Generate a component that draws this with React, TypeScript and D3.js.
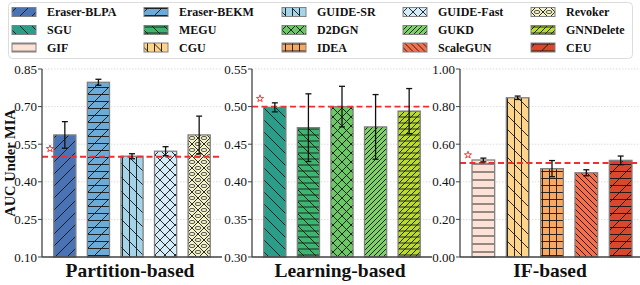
import * as d3 from 'd3';
import React from 'react';

// values (AUC under MIA, mean and std)
const partitionMethods = ['Eraser-BLPA', 'Eraser-BEKM', 'GUIDE-SR', 'GUIDE-Fast', 'Revoker'];
const partitionAuc = [0.587, 0.797, 0.502, 0.522, 0.587];
const partitionErr = [0.053, 0.012, 0.010, 0.018, 0.075];

const learningMethods = ['SGU', 'MEGU', 'D2DGN', 'GUKD', 'GNNDelete'];
const learningAuc = [0.499, 0.472, 0.5, 0.473, 0.494];
const learningErr = [0.006, 0.045, 0.027, 0.043, 0.03];

const ifMethods = ['GIF', 'CGU', 'IDEA', 'ScaleGUN', 'CEU'];
const ifAuc = [0.516, 0.847, 0.47, 0.448, 0.514];
const ifErr = [0.01, 0.009, 0.043, 0.016, 0.023];

const panelTitles = ['Partition-based', 'Learning-based', 'IF-based'];
const partitionTicks = [0.1, 0.25, 0.4, 0.55, 0.7, 0.85];
const learningTicks = [0.3, 0.35, 0.4, 0.45, 0.5, 0.55];
const ifTicks = [0, 0.2, 0.4, 0.6, 0.8, 1.0];
const randomGuess = 0.5;

// fill colour + hatch per method (hatch chars like matplotlib)
const styles: Record<string, { color: string; hatch: string; size: number }> = {
  'Eraser-BLPA': { color: '#4a73b6', hatch: '/', size: 12 },
  'Eraser-BEKM': { color: '#6aabd8', hatch: '/--', size: 14 },
  'GUIDE-SR': { color: '#a5d4e8', hatch: '\\||', size: 14 },
  'GUIDE-Fast': { color: '#d5edf8', hatch: 'x', size: 10 },
  Revoker: { color: '#f4f2c8', hatch: 'xo', size: 12 },
  SGU: { color: '#2a9d8b', hatch: '\\', size: 12 },
  MEGU: { color: '#3bb56f', hatch: '\\--', size: 12 },
  D2DGN: { color: '#6cc765', hatch: 'x', size: 9 },
  GUKD: { color: '#7fd06a', hatch: '//', size: 10 },
  GNNDelete: { color: '#b8dc2e', hatch: '//--', size: 12 },
  GIF: { color: '#fde2d8', hatch: '-', size: 8 },
  CGU: { color: '#fdd48a', hatch: '\\||', size: 14 },
  IDEA: { color: '#f7a862', hatch: '+', size: 7 },
  ScaleGUN: { color: '#f3704c', hatch: '\\\\', size: 12 },
  CEU: { color: '#d9472c', hatch: '/--', size: 14 },
};

const count = (h: string, c: string) => h.split(c).length - 1;

function hatchPath(h: string, s: number) {
  let d = '';
  const nf = count(h, '/') + count(h, 'x');
  const nb = count(h, '\\') + count(h, 'x');
  const nh = count(h, '-') + count(h, '+');
  const nv = count(h, '|') + count(h, '+');
  if (nf) for (let c = 0; c <= 2 * s + 0.01; c += s / nf) d += `M${c + 1},-1L${c - s - 1},${s + 1}`;
  if (nb) for (let c = -s; c <= s + 0.01; c += s / nb) d += `M${c - 1},-1L${c + s + 1},${s + 1}`;
  for (let i = 0; i < nh; i++) d += `M0,${((i + 0.5) * s) / nh}L${s},${((i + 0.5) * s) / nh}`;
  for (let i = 0; i < nv; i++) d += `M${((i + 0.5) * s) / nv},0L${((i + 0.5) * s) / nv},${s}`;
  return d;
}

const panels = [
  { methods: partitionMethods, auc: partitionAuc, err: partitionErr, ticks: partitionTicks, x0: 42, x1: 222 },
  { methods: learningMethods, auc: learningAuc, err: learningErr, ticks: learningTicks, x0: 252, x1: 432 },
  { methods: ifMethods, auc: ifAuc, err: ifErr, ticks: ifTicks, x0: 460, x1: 644 },
];

const plotTop = 69;
const plotBottom = 257;
const legendCols = [12, 144, 282, 403, 531];
const legendRows = [12, 30, 47.5];
const red = '#ee3030';
const starPath = d3.symbol(d3.symbolStar, 16)() as string;

export default function App() {
  const allMethods = panels.flatMap((p) => p.methods);
  const fmt = d3.format('.2f');
  return (
    <svg
      width={640}
      height={285}
      style={{ position: 'absolute', left: 0, top: 0, fontFamily: '"Liberation Serif", "Times New Roman", serif' }}
    >
      <defs>
        {allMethods.map((m, i) => {
          const st = styles[m];
          return (
            <pattern key={m} id={`hatch-${i}`} patternUnits="userSpaceOnUse" width={st.size} height={st.size}>
              <rect width={st.size} height={st.size} fill={st.color} />
              <path d={hatchPath(st.hatch, st.size)} stroke="#151515" strokeWidth={0.9} fill="none" />
              {st.hatch.includes('o') &&
                [
                  [st.size / 2, 0],
                  [st.size / 2, st.size],
                  [0, st.size / 2],
                  [st.size, st.size / 2],
                ].map(([cx, cy], k) => (
                  <ellipse key={k} cx={cx} cy={cy} rx={st.size * 0.24} ry={st.size * 0.13} fill="none" stroke="#151515" strokeWidth={0.7} />
                ))}
            </pattern>
          );
        })}
      </defs>

      {/* legend */}
      <rect x={8.5} y={2.5} width={624} height={56} rx={4} fill="#fff" stroke="#dcdcdc" />
      {allMethods.map((m, i) => {
        const row = Math.floor(i / 5);
        const col = i % 5;
        return (
          <g key={m} transform={`translate(${legendCols[col]},${legendRows[row]})`}>
            <rect x={0} y={-4.5} width={24} height={9} fill={`url(#hatch-${i})`} stroke="#808080" strokeWidth={1} />
            <text x={35} y={0} dominantBaseline="central" fontSize={12} fontWeight="bold" fill="#111">
              {m}
            </text>
          </g>
        );
      })}

      <text
        transform={`translate(10,163) rotate(-90)`}
        textAnchor="middle"
        dominantBaseline="central"
        fontSize={14.5}
        fontWeight="bold"
        fill="#111"
      >
        AUC Under MIA
      </text>

      {panels.map((p, pi) => {
        const y = d3
          .scaleLinear()
          .domain([p.ticks[0], p.ticks[p.ticks.length - 1]])
          .range([plotBottom, plotTop]);
        const x = d3.scaleBand<string>().domain(p.methods).range([p.x0, p.x1]).paddingInner(0.34).paddingOuter(0.35);
        const bw = x.bandwidth();
        const offset = pi * 5;
        const midX = (x(p.methods[2]) as number) + bw / 2;
        return (
          <g key={pi}>
            {p.ticks.map((t) => (
              <g key={t}>
                <line x1={p.x0} x2={p.x1} y1={y(t)} y2={y(t)} stroke="#d4d4d4" strokeWidth={0.8} strokeDasharray="1.5,1.5" />
                <line x1={p.x0 - 4} x2={p.x0} y1={y(t)} y2={y(t)} stroke="#444" strokeWidth={1} />
                <text x={p.x0 - 5} y={y(t)} textAnchor="end" dominantBaseline="central" fontSize={13} fill="#111">
                  {fmt(t)}
                </text>
              </g>
            ))}
            {p.methods.map((m, i) => {
              const bx = x(m) as number;
              const v = p.auc[i];
              return (
                <rect
                  key={m}
                  x={bx}
                  y={y(v)}
                  width={bw}
                  height={plotBottom - y(v)}
                  fill={`url(#hatch-${offset + i})`}
                  stroke="#808080"
                  strokeWidth={1.3}
                />
              );
            })}
            <line
              x1={p.x0}
              x2={p.x1}
              y1={y(randomGuess)}
              y2={y(randomGuess)}
              stroke={red}
              strokeWidth={1.8}
              strokeDasharray="6,3.5"
            />
            <path d={starPath} transform={`translate(${p.x0 + 8},${y(randomGuess) - 8})`} fill="none" stroke={red} strokeWidth={0.9} />
            {p.methods.map((m, i) => {
              const cx = (x(m) as number) + bw / 2;
              const hi = y(p.auc[i] + p.err[i]);
              const lo = y(p.auc[i] - p.err[i]);
              return (
                <g key={m} stroke="#111" strokeWidth={1.3}>
                  <line x1={cx} x2={cx} y1={hi} y2={lo} />
                  <line x1={cx - 3} x2={cx + 3} y1={hi} y2={hi} />
                  <line x1={cx - 3} x2={cx + 3} y1={lo} y2={lo} />
                </g>
              );
            })}
            <line x1={p.x0} x2={p.x0} y1={plotTop} y2={plotBottom} stroke="#444" strokeWidth={1.3} />
            <line x1={p.x0} x2={p.x1} y1={plotBottom} y2={plotBottom} stroke="#444" strokeWidth={1.3} />
            <text x={midX - 2} y={277} textAnchor="middle" fontSize={19.5} fontWeight="bold" fill="#111">
              {panelTitles[pi]}
            </text>
          </g>
        );
      })}
    </svg>
  );
}
